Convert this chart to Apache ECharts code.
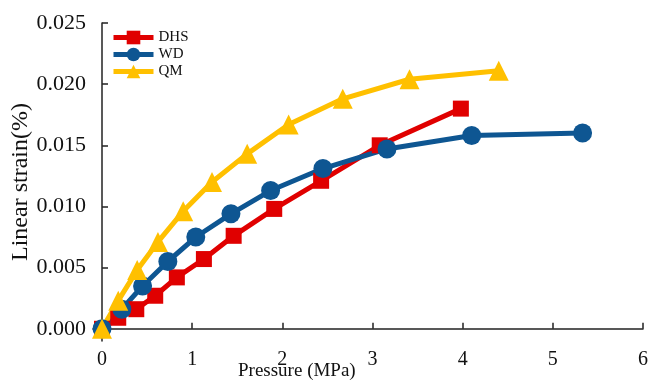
<!DOCTYPE html>
<html>
<head>
<meta charset="utf-8">
<script src="https://cdn.jsdelivr.net/npm/echarts@6/dist/echarts.min.js"></script>
<style>
  html, body {margin: 0; padding: 0; background: #fff;}
  #chart {width: 651px; height: 389px;}
</style>
</head>
<body>
<div id="chart"></div>
<script>
// pressure (MPa) / linear strain (%)
const dhsX = [0, 0.18, 0.38, 0.59, 0.83, 1.13, 1.46, 1.91, 2.43, 3.08, 3.98];
const dhsY = [0, 0.0009, 0.0016, 0.0027, 0.0042, 0.0057, 0.0076, 0.0098, 0.0121, 0.0150, 0.0180];
const wdX = [0, 0.22, 0.45, 0.73, 1.04, 1.43, 1.87, 2.45, 3.16, 4.10, 5.33];
const wdY = [0, 0.0016, 0.0035, 0.0055, 0.0075, 0.0094, 0.0113, 0.0131, 0.0147, 0.0158, 0.0160];
const qmX = [0, 0.18, 0.39, 0.62, 0.90, 1.22, 1.61, 2.07, 2.67, 3.41, 4.40];
const qmY = [0, 0.0023, 0.0048, 0.0071, 0.0096, 0.0120, 0.0143, 0.0167, 0.0188, 0.0204, 0.0211];

const xTicks = [0, 1, 2, 3, 4, 5, 6];
const yTicks = [0, 0.005, 0.010, 0.015, 0.020, 0.025];

const FONT = '"Liberation Serif", "Times New Roman", serif';

function pairs(xs, ys) {
    return xs.map((x, i) => [x, ys[i]]);
}

function lineSeries(name, data, color, symbol, size) {
    return {
        name: name,
        type: 'line',
        data: data,
        symbol: symbol,
        symbolSize: size,
        lineStyle: {color: color, width: 5},
        itemStyle: {color: color},
        z: 3,
    };
}

const myChart = echarts.init(document.getElementById('chart'));

const option = {
    animation: false,
    backgroundColor: '#fff',
    grid: {left: 93, right: 8, top: 23, bottom: 48, containLabel: false, outerBoundsMode: 'none'},
    legend: {
        left: 106,
        top: 25,
        orient: 'vertical',
        itemWidth: 40,
        itemHeight: 17,
        itemGap: 2,
        lineStyle: {width: 5},
        textStyle: {fontFamily: FONT, fontSize: 15, color: '#111'},
        data: ['DHS', 'WD', 'QM'],
    },
    xAxis: {
        type: 'value',
        min: -0.1,
        max: 6,
        splitLine: {show: false},
        axisLine: {lineStyle: {color: '#222', width: 1.5}},
        axisTick: {inside: true, length: 6, customValues: xTicks, lineStyle: {color: '#222', width: 1.5}},
        axisLabel: {
            customValues: xTicks,
            margin: 9,
            fontFamily: FONT,
            fontSize: 20,
            color: '#111',
        },
    },
    yAxis: {
        type: 'value',
        min: -0.001,
        max: 0.025,
        name: 'Linear strain(%)',
        nameLocation: 'middle',
        nameGap: 60,
        nameMoveOverlap: false,
        nameTextStyle: {fontFamily: FONT, fontSize: 24, color: '#111'},
        splitLine: {show: false},
        axisLine: {lineStyle: {color: '#222', width: 1.5}},
        axisTick: {inside: true, length: 6, customValues: yTicks, lineStyle: {color: '#222', width: 1.5}},
        axisLabel: {
            customValues: yTicks,
            margin: 7,
            fontFamily: FONT,
            fontSize: 22,
            color: '#111',
            formatter: (v) => v.toFixed(3),
        },
    },
    graphic: [{
        type: 'text',
        left: 238,
        top: 362,
        style: {text: 'Pressure (MPa)', font: '19px ' + FONT, fill: '#111'},
    }],
    series: [
        lineSeries('DHS', pairs(dhsX, dhsY), '#E00000', 'rect', 16),
        lineSeries('WD', pairs(wdX, wdY), '#0E5692', 'circle', 19),
        lineSeries('QM', pairs(qmX, qmY), '#FFC000', 'triangle', 20),
    ],
};

myChart.setOption(option);
</script>
</body>
</html>
